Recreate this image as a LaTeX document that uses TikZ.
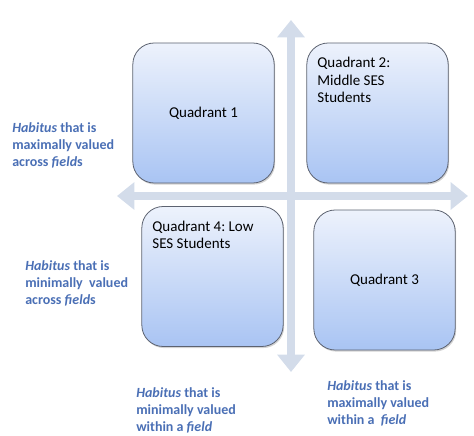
\documentclass[tikz,border=0pt]{standalone}
\usepackage{fontspec}
\setmainfont{Carlito}
\frenchspacing
\usepackage{xcolor}
\definecolor{cAxis}{HTML}{D3DCEA}
\definecolor{cBoxTop}{HTML}{EDF2FC}
\definecolor{cBoxBot}{HTML}{A9C4F3}
\definecolor{cEdge}{HTML}{5C6270}
\definecolor{cLabel}{HTML}{4A6FB5}
\usepackage{tikz}
\usetikzlibrary{positioning,arrows.meta,shadows}
\tikzset{
  quad-box/.style={draw=cEdge,line width=0.6pt,rounded corners=16pt,
    minimum width=106pt,minimum height=105pt,align=center,
    top color=cBoxTop,bottom color=cBoxBot,
    drop shadow={shadow xshift=0.8pt,shadow yshift=-1.2pt,opacity=0.35},
    font=\fontsize{11.25}{13}\selectfont},
  quad-text/.style={inner sep=0pt,align=left,
    font=\fontsize{11.25}{13}\selectfont},
  axis-label/.style={anchor=north west,inner sep=0pt,align=left,text=cLabel,
    font=\fontsize{10.5}{12.75}\selectfont\bfseries},
  axis-arrow/.style={{Triangle[length=13pt,width=20pt]}-{Triangle[length=13pt,width=20pt]},
    line width=5.5pt,draw=cAxis},
}

\begin{document}
\begin{tikzpicture}[x=0.75pt,y=-0.75pt]
  \useasboundingbox (0,0) rectangle (474,435);
  % axes
  \coordinate (axis-top) at (291,20);
  \coordinate (axis-bottom) at (291,372);
  \coordinate (axis-left) at (117,196);
  \coordinate (axis-right) at (468,196);
  \draw[axis-arrow] (axis-left) -- (axis-right);
  \draw[axis-arrow] (axis-top) -- (axis-bottom);
  % quadrants
  \node[quad-box] (q1) at (203.5,113) {Quadrant 1};
  \node[quad-box] (q2) at (377.5,113) {};
  \node[quad-box] (q4) at (212.5,276.5) {};
  \node[quad-box] (q3) at (384.5,280) {Quadrant 3};
  \node[quad-text,below right=11pt and 8pt of q2.north west] (q2-text)
    {Quadrant 2:\\Middle SES\\Students};
  \node[quad-text,below right=11pt and 8pt of q4.north west] (q4-text)
    {Quadrant 4: Low\\SES Students};
  % axis labels
  \node[axis-label] (lbl-across-max) at (12,122)
    {\textit{Habitus} that is\\maximally valued\\across \textit{field}s};
  \node[axis-label] (lbl-across-min) at (25,260)
    {\textit{Habitus} that is\\minimally~ valued\\across \textit{field}s};
  \node[axis-label] (lbl-within-min) at (136,387)
    {\textit{Habitus} that is\\minimally valued\\within a \textit{field}};
  \node[axis-label] (lbl-within-max) at (327,380)
    {\textit{Habitus} that is\\maximally valued\\within a~ \textit{field}};
\end{tikzpicture}
\end{document}
